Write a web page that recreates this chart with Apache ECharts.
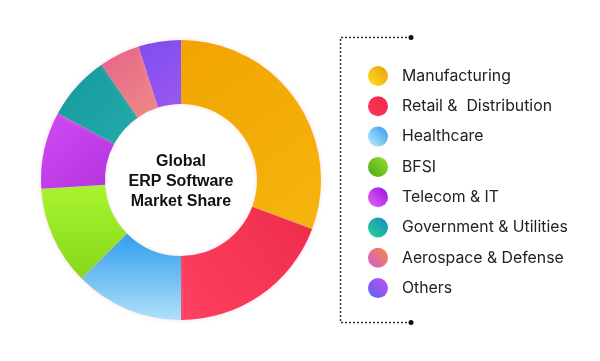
<!DOCTYPE html>
<html>
<head>
<meta charset="utf-8">
<script src="https://cdn.jsdelivr.net/npm/echarts@6/dist/echarts.min.js"></script>
<style>
html,body{margin:0;padding:0;background:#fff;}
#chart{width:600px;height:361px;}
</style>
</head>
<body>
<div id="chart"></div>
<script>
const categories = ['Manufacturing', 'Retail &  Distribution', 'Healthcare', 'BFSI', 'Telecom & IT', 'Government & Utilities', 'Aerospace & Defense', 'Others'];
const shares = [30.7, 19.3, 12.6, 11.4, 8.9, 7.5, 4.7, 4.9];
const centerTitle = ['Global', 'ERP Software', 'Market Share'];
// gradient stops per category: [start, end, x, y, x2, y2]
const ringColors = [
  ['#f2a400', '#f4b50c', 0, 0, 1, 1],
  ['#ee2c4c', '#fd4161', 1, 0, 0, 1],
  ['#2f9ded', '#b0e0fa', 0, 0, 0, 1],
  ['#a8f42e', '#86d81c', 0, 0, 0, 1],
  ['#d24af4', '#b233dd', 0, 0, 1, 1],
  ['#16999f', '#22aaa8', 0, 0, 1, 1],
  ['#e66488', '#ee8a86', 0, 0, 1, 1],
  ['#7f4cef', '#9a58f0', 0, 0, 1, 1]
];
const legendColors = [
  ['#f09a10', '#fbe21c'],
  ['#f52845', '#f5385c'],
  ['#2d9bef', '#c6ecfb'],
  ['#8fe32a', '#4fa51a'],
  ['#9a10e8', '#e466f0'],
  ['#1a86c8', '#26d88a'],
  ['#f08a40', '#d858d8'],
  ['#d04cf0', '#4a68f0']
];

function grad(c) {
  return new echarts.graphic.LinearGradient(c[2], c[3], c[4], c[5], [
    {offset: 0, color: c[0]}, {offset: 1, color: c[1]}
  ]);
}

const chart = echarts.init(document.getElementById('chart'), null, {renderer: 'canvas'});
const pieData = categories.map((name, i) => ({
  name: name,
  value: shares[i],
  itemStyle: {color: grad(ringColors[i])}
}));
const legendData = categories.map((name, i) => ({
  name: name,
  itemStyle: {color: new echarts.graphic.LinearGradient(1, 0, 0, 1, [
    {offset: 0, color: legendColors[i][0]}, {offset: 1, color: legendColors[i][1]}
  ])}
}));

chart.setOption({
  backgroundColor: '#ffffff',
  animation: false,
  legend: {
    orient: 'vertical',
    left: 363,
    top: 61,
    icon: 'circle',
    itemWidth: 20,
    itemHeight: 20,
    itemGap: 10.3,
    data: legendData,
    selectedMode: false,
    textStyle: {
      fontFamily: 'Inter',
      fontSize: 15.8,
      color: '#222',
      padding: [0, 0, 0, 9]
    }
  },
  series: [{
    type: 'pie',
    center: [181, 180],
    radius: [76, 140],
    startAngle: 90,
    clockwise: true,
    silent: true,
    label: {show: false},
    labelLine: {show: false},
    itemStyle: {
      shadowBlur: 5,
      shadowColor: 'rgba(240,160,180,0.35)'
    },
    data: pieData
  }],
  graphic: [
    {
      type: 'text',
      x: 181,
      y: 182,
      style: {
        text: centerTitle.join('\n'),
        textAlign: 'center',
        textVerticalAlign: 'middle',
        fontFamily: 'Liberation Sans',
        fontWeight: 'bold',
        fontSize: 16,
        lineHeight: 20,
        fill: '#111'
      }
    },
    {
      type: 'polyline',
      shape: {points: [[411, 37.5], [340.5, 37.5], [340.5, 322.5], [411, 322.5]]},
      style: {stroke: '#333', lineWidth: 1.5, lineDash: [2, 2], fill: null}
    },
    {type: 'circle', shape: {cx: 411, cy: 37.5, r: 2.5}, style: {fill: '#111'}},
    {type: 'circle', shape: {cx: 411, cy: 322.5, r: 2.5}, style: {fill: '#111'}}
  ]
});
</script>
</body>
</html>
